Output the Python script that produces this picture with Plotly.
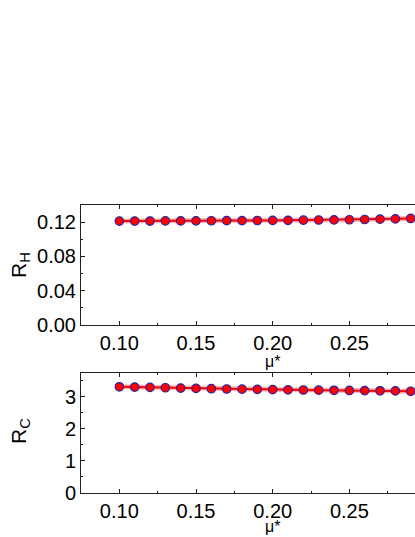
import plotly.graph_objects as go

# data
mu = [0.10, 0.11, 0.12, 0.13, 0.14, 0.15, 0.16, 0.17, 0.18, 0.19,
      0.20, 0.21, 0.22, 0.23, 0.24, 0.25, 0.26, 0.27, 0.28, 0.29]
r_h = [0.1212, 0.1212, 0.1213, 0.1214, 0.1214, 0.1215, 0.1216, 0.1217, 0.1218, 0.1219,
       0.1220, 0.1221, 0.1223, 0.1225, 0.1226, 0.1228, 0.1231, 0.1235, 0.1238, 0.1243]
r_c = [3.31, 3.30, 3.29, 3.28, 3.27, 3.26, 3.25, 3.24, 3.235, 3.23,
       3.22, 3.215, 3.21, 3.205, 3.20, 3.195, 3.19, 3.185, 3.18, 3.17]

FONT = "Liberation Sans, Arial, sans-serif"
W, H = 415, 537
LEFT = 81

fig = go.Figure()

for ydata, ax in [(r_h, "y"), (r_c, "y2")]:
    xa = "x" if ax == "y" else "x2"
    # soft halo under the line
    fig.add_trace(go.Scatter(x=mu, y=ydata, xaxis=xa, yaxis=ax, mode="lines",
                             line=dict(color="rgba(255,0,0,0.3)", width=5),
                             hoverinfo="skip", showlegend=False))
    fig.add_trace(go.Scatter(x=mu, y=ydata, xaxis=xa, yaxis=ax, mode="lines+markers",
                             line=dict(color="#ff0000", width=2),
                             marker=dict(size=8.5, color="#ff0000",
                                         line=dict(color="#2222aa", width=1.2)),
                             showlegend=False))

plot_w = W - LEFT

def py(p):
    # pixel row -> paper fraction
    return (H - p) / H

def px(p):
    # pixel column -> paper fraction
    return (p - LEFT) / plot_w

xcommon = dict(range=[0.075, 0.2928], dtick=0.05, tick0=0.10, tickformat=".2f",
               ticks="inside", ticklen=4, tickwidth=1, tickcolor="#222",
               showline=True, linecolor="#222", linewidth=1, mirror="allticks",
               showgrid=False, zeroline=False,
               minor=dict(ticks="inside", ticklen=2, dtick=0.025, tick0=0.10, tickcolor="#222"),
               tickfont=dict(family=FONT, size=20, color="#000"))
ycommon = dict(ticks="inside", ticklen=4, tickwidth=1, tickcolor="#222",
               showline=True, linecolor="#222", linewidth=1, mirror=False,
               showgrid=False, zeroline=False,
               tickfont=dict(family=FONT, size=20, color="#000"))

fig.update_layout(
    width=W, height=H,
    margin=dict(l=LEFT, r=0, t=0, b=0, autoexpand=False),
    paper_bgcolor="white", plot_bgcolor="white",
    xaxis=dict(**xcommon, anchor="y"),
    yaxis=dict(**ycommon, range=[0, 0.14], dtick=0.04, tickformat=".2f",
               minor=dict(ticks="inside", ticklen=2, dtick=0.02, tickcolor="#222"),
               domain=[py(325), py(205)], anchor="x"),
    xaxis2=dict(**xcommon, anchor="y2"),
    yaxis2=dict(**ycommon, range=[0, 3.75], dtick=1,
                minor=dict(ticks="inside", ticklen=2, dtick=0.5, tickcolor="#222"),
                domain=[py(492.7), py(372.7)], anchor="x2"),
)

for ty in (361, 526):
    fig.add_annotation(text="μ*", xref="paper", yref="paper",
                       x=px(272), y=py(ty), xanchor="center", yanchor="middle",
                       showarrow=False, font=dict(family=FONT, size=16, color="#000"))
for label, cy in (("R<sub>H</sub>", 265), ("R<sub>C</sub>", 431)):
    fig.add_annotation(text=label, xref="paper", yref="paper",
                       x=px(20), y=py(cy), xanchor="center", yanchor="middle",
                       textangle=-90, showarrow=False,
                       font=dict(family=FONT, size=21, color="#000"))

# drop the default page margin so the figure sits at the window's corner
fig.write_html("out.html", config={"displayModeBar": False},
               post_script="document.body.style.margin='0';document.body.style.overflow='hidden';")
